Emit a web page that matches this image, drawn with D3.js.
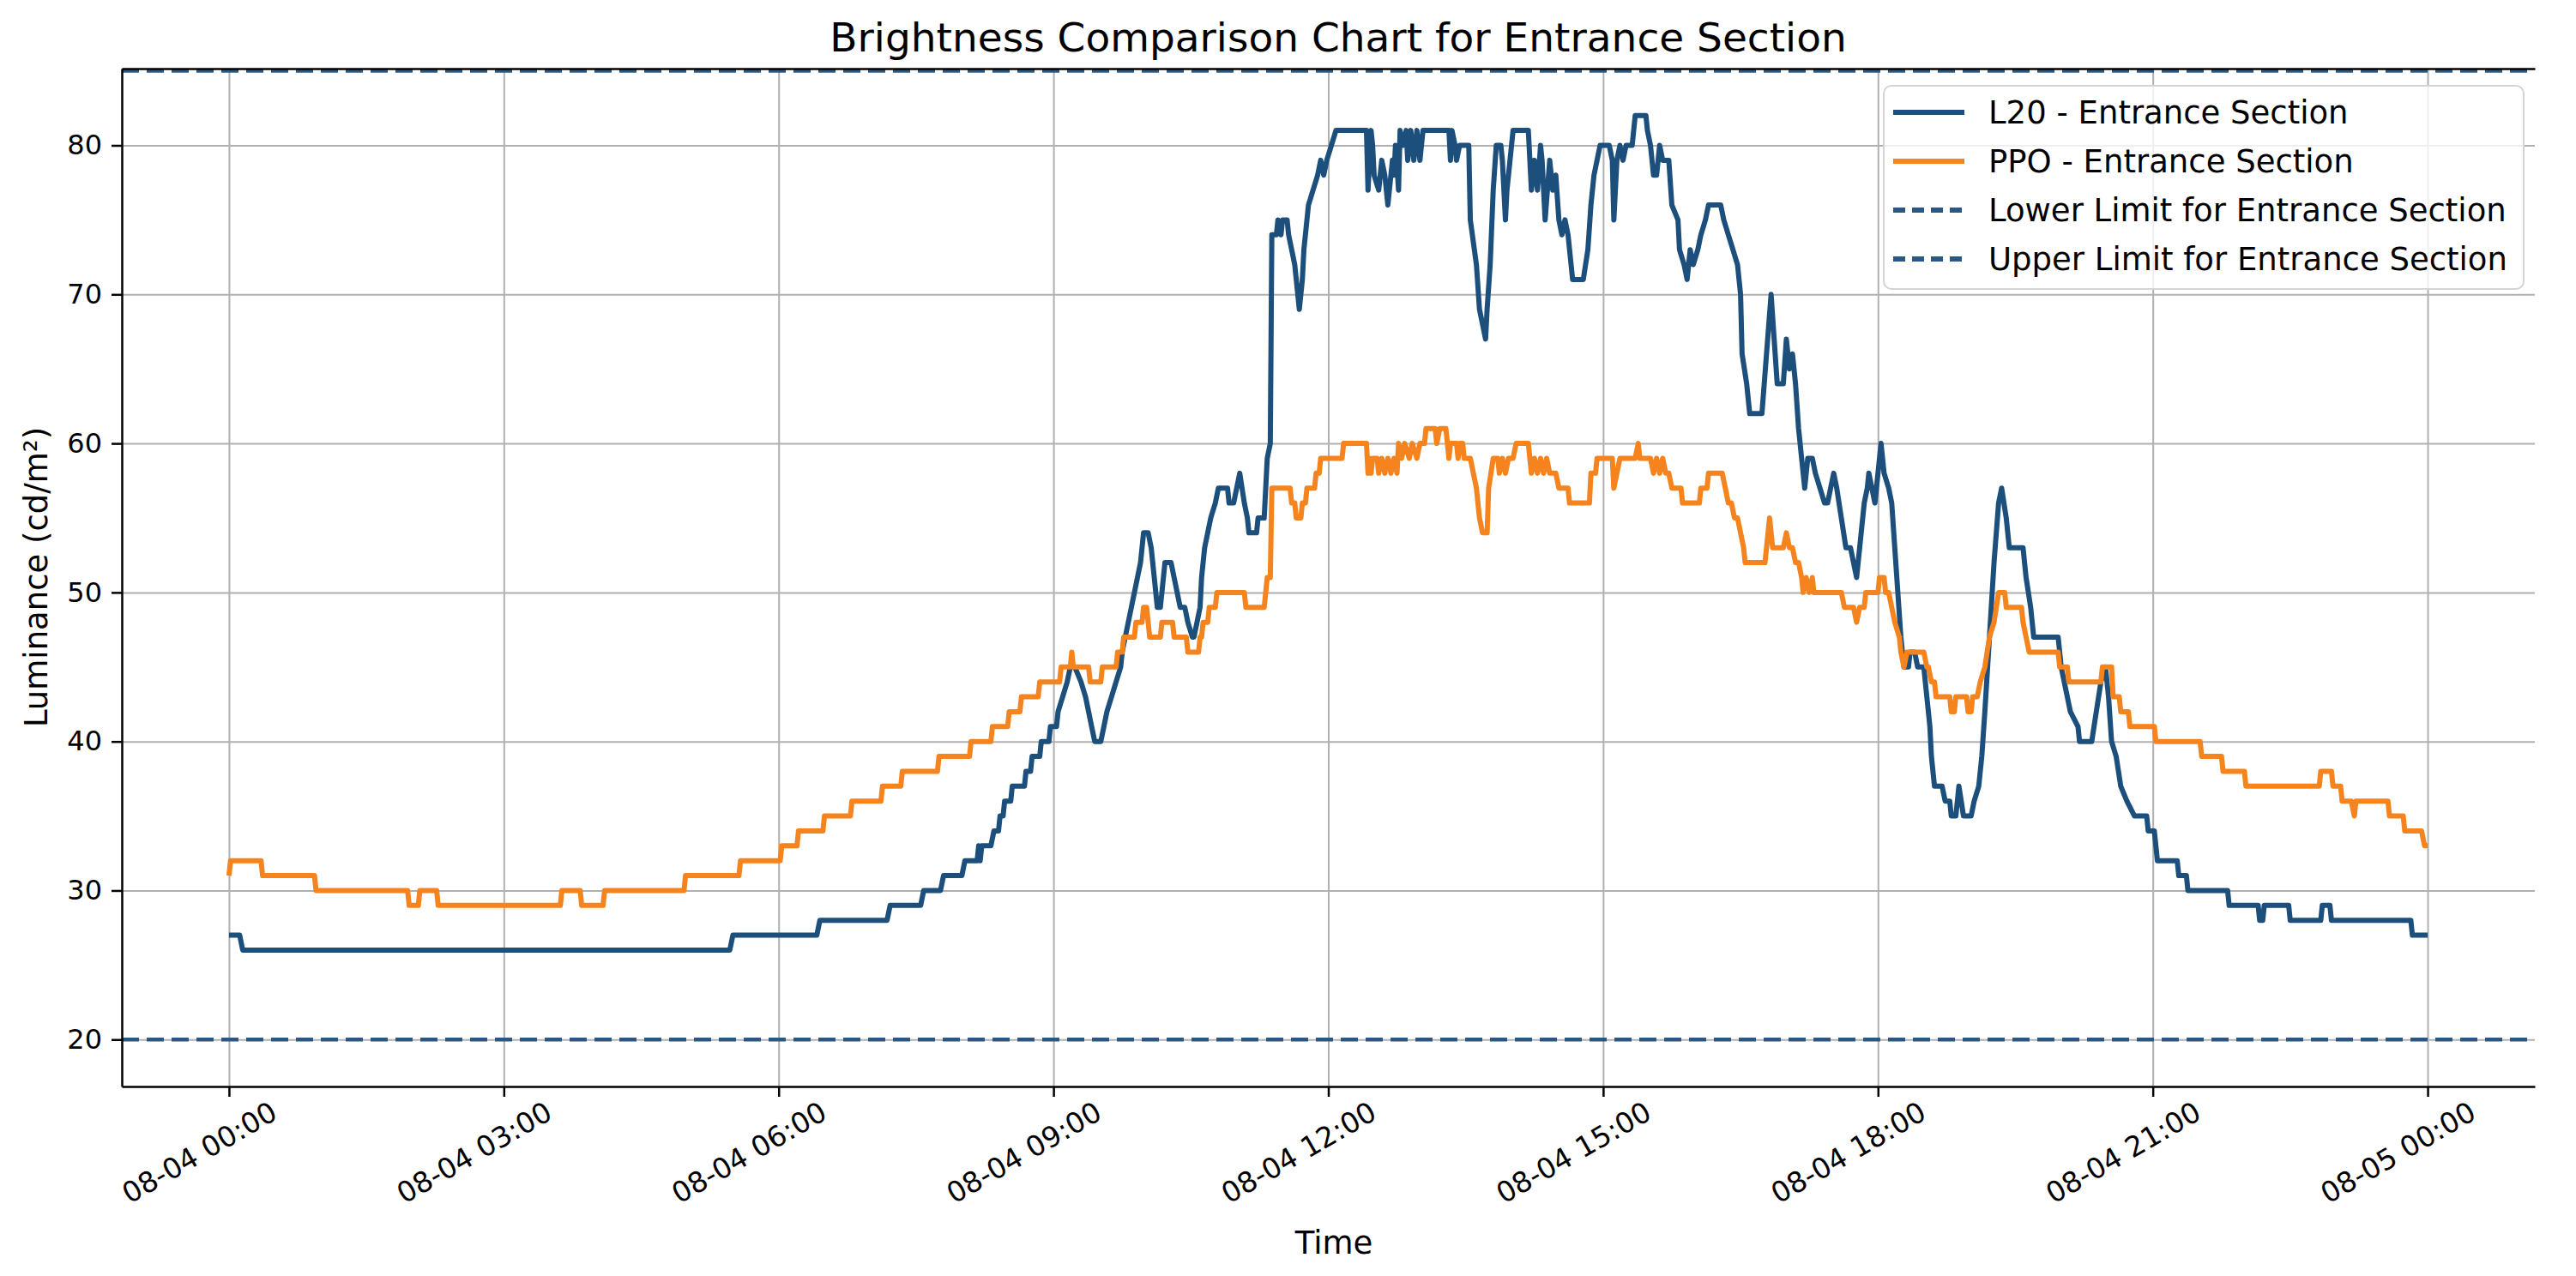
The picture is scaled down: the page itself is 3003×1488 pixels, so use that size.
<!DOCTYPE html>
<html>
<head>
<meta charset="utf-8">
<script src="https://cdn.jsdelivr.net/npm/d3@7"></script>
<style>
  body { margin: 0; background: #fff; }
  svg text { font-family: "DejaVu Sans", sans-serif; fill: #000; }
</style>
</head>
<body>
<script>
// L20 readings, [time of day, cd/m2]
var l20 = [["00:00",27],["00:07",27],["00:09",26],["05:28",26],["05:30",27],["06:25",27],["06:27",28],["07:11",28],["07:13",29],["07:33",29],["07:35",30],["07:46",30],["07:48",31],["08:00",31],["08:02",32],["08:10",32],["08:11",33],["08:12",32],["08:13",33],["08:19",33],["08:21",34],["08:24",34],["08:25",35],["08:27",35],["08:28",36],["08:32",36],["08:33",37],["08:41",37],["08:42",38],["08:45",38],["08:46",39],["08:51",39],["08:52",40],["08:57",40],["08:58",41],["09:02",41],["09:03",42],["09:06",43],["09:09",44],["09:11",45],["09:14",45],["09:18",44],["09:21",43],["09:23",42],["09:25",41],["09:27",40],["09:31",40],["09:33",41],["09:35",42],["09:38",43],["09:41",44],["09:44",45],["09:45",46],["09:47",47],["09:49",48],["09:51",49],["09:53",50],["09:55",51],["09:57",52],["09:58",53],["09:59",54],["10:02",54],["10:04",53],["10:05",52],["10:06",51],["10:07",50],["10:08",49],["10:10",49],["10:12",51],["10:13",52],["10:17",52],["10:19",51],["10:21",50],["10:23",49],["10:26",49],["10:28",48],["10:31",47],["10:32",47],["10:34",48],["10:36",49],["10:37",51],["10:39",53],["10:41",54],["10:43",55],["10:46",56],["10:48",57],["10:54",57],["10:55",56],["10:58",56],["11:00",57],["11:02",58],["11:05",56],["11:07",55],["11:08",54],["11:13",54],["11:14",55],["11:18",55],["11:19",57],["11:20",59],["11:22",60],["11:23",74],["11:26",74],["11:27",75],["11:29",74],["11:30",75],["11:33",75],["11:34",74],["11:36",73],["11:38",72],["11:39",71],["11:40",70],["11:41",69],["11:43",71],["11:44",73],["11:46",75],["11:47",76],["11:50",77],["11:53",78],["11:55",79],["11:57",78],["11:59",79],["12:02",80],["12:05",81],["12:25",81],["12:26",77],["12:28",81],["12:29",80],["12:30",78],["12:33",77],["12:35",79],["12:37",78],["12:39",76],["12:42",79],["12:43",78],["12:44",80],["12:46",77],["12:47",81],["12:49",80],["12:51",81],["12:52",79],["12:54",81],["12:56",79],["12:58",81],["13:00",79],["13:02",81],["13:19",81],["13:20",79],["13:21",81],["13:23",80],["13:24",79],["13:26",80],["13:32",80],["13:33",75],["13:37",72],["13:39",69],["13:41",68],["13:43",67],["13:44",69],["13:46",72],["13:48",77],["13:50",80],["13:53",80],["13:54",79],["13:56",75],["13:57",77],["13:59",79],["14:01",81],["14:11",81],["14:13",77],["14:15",79],["14:17",77],["14:19",80],["14:20",79],["14:22",75],["14:25",79],["14:27",77],["14:29",78],["14:31",75],["14:33",74],["14:35",75],["14:37",74],["14:39",72],["14:40",71],["14:47",71],["14:50",73],["14:52",76],["14:54",78],["14:56",79],["14:58",80],["15:04",80],["15:06",79],["15:07",75],["15:09",79],["15:11",80],["15:13",79],["15:15",80],["15:19",80],["15:20",81],["15:21",82],["15:28",82],["15:29",81],["15:31",80],["15:33",78],["15:35",78],["15:37",80],["15:39",79],["15:43",79],["15:45",76],["15:49",75],["15:50",73],["15:53",72],["15:55",71],["15:57",73],["15:59",72],["16:02",73],["16:04",74],["16:07",75],["16:09",76],["16:17",76],["16:19",75],["16:22",74],["16:25",73],["16:28",72],["16:30",70],["16:31",66],["16:34",64],["16:36",62],["16:44",62],["16:47",66],["16:50",70],["16:52",67],["16:54",64],["16:58",64],["17:00",67],["17:02",65],["17:04",66],["17:06",64],["17:08",61],["17:10",59],["17:12",57],["17:14",59],["17:17",59],["17:19",58],["17:22",57],["17:25",56],["17:27",56],["17:29",57],["17:31",58],["17:33",57],["17:36",55],["17:39",53],["17:42",53],["17:44",52],["17:46",51],["17:48",53],["17:51",56],["17:53",57],["17:54",58],["17:56",57],["17:58",56],["18:00",58],["18:02",60],["18:04",58],["18:07",57],["18:09",56],["18:11",53],["18:13",50],["18:15",47],["18:17",45],["18:20",45],["18:21",46],["18:24",46],["18:26",45],["18:30",45],["18:32",43],["18:34",41],["18:35",39],["18:37",37],["18:42",37],["18:44",36],["18:47",36],["18:48",35],["18:51",35],["18:53",37],["18:56",35],["19:01",35],["19:03",36],["19:06",37],["19:08",39],["19:10",42],["19:13",47],["19:16",52],["19:19",56],["19:21",57],["19:24",55],["19:26",53],["19:35",53],["19:37",51],["19:40",49],["19:42",47],["19:58",47],["20:00",45],["20:04",43],["20:06",42],["20:11",41],["20:12",40],["20:20",40],["20:23",42],["20:26",44],["20:29",45],["20:31",43],["20:33",40],["20:36",39],["20:39",37],["20:43",36],["20:48",35],["20:56",35],["20:57",34],["21:01",34],["21:02",33],["21:03",32],["21:16",32],["21:17",31],["21:22",31],["21:23",30],["21:49",30],["21:50",29],["22:09",29],["22:10",28],["22:12",28],["22:13",29],["22:29",29],["22:30",28],["22:50",28],["22:51",29],["22:56",29],["22:57",28],["23:49",28],["23:50",27],["24:00",27]];

// PPO readings
var ppo = [["00:00",31],["00:01",32],["00:21",32],["00:22",31],["00:56",31],["00:57",30],["01:57",30],["01:58",29],["02:04",29],["02:05",30],["02:16",30],["02:17",29],["03:37",29],["03:38",30],["03:50",30],["03:51",29],["04:05",29],["04:06",30],["04:58",30],["04:59",31],["05:34",31],["05:35",32],["06:01",32],["06:02",33],["06:12",33],["06:13",34],["06:29",34],["06:30",35],["06:47",35],["06:48",36],["07:07",36],["07:08",37],["07:20",37],["07:21",38],["07:44",38],["07:45",39],["08:05",39],["08:06",40],["08:19",40],["08:20",41],["08:30",41],["08:31",42],["08:38",42],["08:39",43],["08:50",43],["08:51",44],["09:04",44],["09:05",45],["09:11",45],["09:12",46],["09:13",45],["09:23",45],["09:24",44],["09:31",44],["09:32",45],["09:41",45],["09:42",46],["09:45",46],["09:46",47],["09:53",47],["09:54",48],["09:58",48],["09:59",49],["10:01",49],["10:02",48],["10:03",47],["10:10",47],["10:11",48],["10:18",48],["10:19",47],["10:27",47],["10:28",46],["10:35",46],["10:36",47],["10:37",47],["10:38",48],["10:41",48],["10:42",49],["10:46",49],["10:47",50],["11:05",50],["11:06",49],["11:18",49],["11:20",51],["11:22",51],["11:23",57],["11:35",57],["11:36",56],["11:38",56],["11:39",55],["11:42",55],["11:43",56],["11:45",56],["11:46",57],["11:51",57],["11:52",58],["11:54",58],["11:55",59],["12:09",59],["12:10",60],["12:25",60],["12:26",58],["12:27",59],["12:28",58],["12:29",59],["12:32",59],["12:33",58],["12:35",59],["12:37",58],["12:39",59],["12:41",58],["12:43",59],["12:45",58],["12:46",60],["12:48",59],["12:50",60],["12:53",59],["12:55",60],["12:58",59],["13:00",60],["13:03",60],["13:04",61],["13:10",61],["13:11",60],["13:13",61],["13:17",61],["13:19",59],["13:20",60],["13:24",60],["13:25",59],["13:26",60],["13:28",60],["13:29",59],["13:33",59],["13:35",58],["13:37",57],["13:39",55],["13:41",54],["13:44",54],["13:45",57],["13:48",59],["13:51",59],["13:52",58],["13:54",59],["13:56",58],["13:58",59],["14:01",59],["14:03",60],["14:11",60],["14:13",58],["14:15",59],["14:17",58],["14:19",59],["14:21",58],["14:23",59],["14:25",58],["14:29",58],["14:31",57],["14:37",57],["14:38",56],["14:51",56],["14:52",58],["14:55",58],["14:56",59],["15:06",59],["15:07",57],["15:09",58],["15:11",59],["15:21",59],["15:23",60],["15:24",59],["15:31",59],["15:33",58],["15:35",59],["15:37",58],["15:39",59],["15:41",58],["15:43",58],["15:45",57],["15:51",57],["15:52",56],["16:03",56],["16:04",57],["16:08",57],["16:09",58],["16:18",58],["16:20",57],["16:22",56],["16:24",56],["16:26",55],["16:28",55],["16:30",54],["16:32",53],["16:33",52],["16:46",52],["16:49",55],["16:51",53],["16:58",53],["17:00",54],["17:02",53],["17:04",53],["17:06",52],["17:08",52],["17:10",51],["17:11",50],["17:13",51],["17:15",50],["17:17",51],["17:18",50],["17:36",50],["17:38",49],["17:44",49],["17:46",48],["17:48",49],["17:51",49],["17:52",50],["18:00",50],["18:01",51],["18:04",51],["18:05",50],["18:07",50],["18:09",49],["18:11",48],["18:14",47],["18:15",46],["18:17",45],["18:19",46],["18:30",46],["18:32",45],["18:33",45],["18:35",44],["18:37",44],["18:38",43],["18:47",43],["18:48",42],["18:50",42],["18:51",43],["18:58",43],["18:59",42],["19:01",42],["19:02",43],["19:05",43],["19:07",44],["19:10",45],["19:13",47],["19:16",48],["19:19",50],["19:23",50],["19:24",49],["19:34",49],["19:35",48],["19:37",47],["19:39",46],["19:58",46],["19:59",45],["20:04",45],["20:05",44],["20:26",44],["20:27",45],["20:33",45],["20:34",43],["20:38",43],["20:39",42],["20:44",42],["20:45",41],["21:01",41],["21:02",40],["21:31",40],["21:32",39],["21:45",39],["21:46",38],["22:00",38],["22:01",37],["22:49",37],["22:50",38],["22:57",38],["22:58",37],["23:03",37],["23:04",36],["23:10",36],["23:12",35],["23:13",36],["23:34",36],["23:35",35],["23:44",35],["23:45",34],["23:56",34],["23:58",33],["24:00",33]];

var lowerLimit = 20;
var upperLimit = 85;
var yTicks = [20, 30, 40, 50, 60, 70, 80];
var xTickHours = [0, 3, 6, 9, 12, 15, 18, 21, 24];
var legendLabels = ['L20 - Entrance Section', 'PPO - Entrance Section',
  'Lower Limit for Entrance Section', 'Upper Limit for Entrance Section'];

var colorL20 = '#1c4f7c';
var colorPPO = '#f5841f';
var colorLimit = '#2a5884';

var width = 3003, height = 1488;
var plotLeft = 142, plotRight = 2955, plotTop = 80, plotBottom = 1267;

var base = new Date(2024, 7, 4);
function atHours(h) { return new Date(base.getTime() + h * 3600000); }
function toDate(hm) {
  var p = hm.split(':');
  return atHours(+p[0] + p[1] / 60);
}

var x = d3.scaleTime()
  .domain([atHours(-1.17), atHours(25.17)])
  .range([plotLeft, plotRight]);

var y = d3.scaleLinear()
  .domain([16.85, 85.15])
  .range([plotBottom, plotTop]);

var svg = d3.select('body').append('svg')
  .attr('width', width)
  .attr('height', height);

svg.append('rect')
  .attr('width', width)
  .attr('height', height)
  .attr('fill', '#fff');

var xTickDates = xTickHours.map(atHours);

// grid
var gridX = svg.append('g')
  .attr('transform', 'translate(0,' + plotBottom + ')')
  .call(d3.axisBottom(x).tickValues(xTickDates).tickSize(-(plotBottom - plotTop)).tickFormat(''));
gridX.select('.domain').remove();
gridX.selectAll('line').attr('stroke', '#b0b0b0').attr('stroke-width', 2);

var gridY = svg.append('g')
  .attr('transform', 'translate(' + plotLeft + ',0)')
  .call(d3.axisLeft(y).tickValues(yTicks).tickSize(-(plotRight - plotLeft)).tickFormat(''));
gridY.select('.domain').remove();
gridY.selectAll('line').attr('stroke', '#b0b0b0').attr('stroke-width', 2);

var line = d3.line()
  .x(function(d) { return x(toDate(d[0])); })
  .y(function(d) { return y(d[1]); });

svg.append('path')
  .datum(l20)
  .attr('d', line)
  .attr('fill', 'none')
  .attr('stroke', colorL20)
  .attr('stroke-width', 6)
  .attr('stroke-linejoin', 'round');

svg.append('path')
  .datum(ppo)
  .attr('d', line)
  .attr('fill', 'none')
  .attr('stroke', colorPPO)
  .attr('stroke-width', 6)
  .attr('stroke-linejoin', 'round');

// limit lines across the whole axis
[lowerLimit, upperLimit].forEach(function(v) {
  svg.append('path')
    .datum(x.domain())
    .attr('d', d3.line().x(function(d) { return x(d); }).y(function() { return y(v); }))
    .attr('fill', 'none')
    .attr('stroke', colorLimit)
    .attr('stroke-width', 4.5)
    .attr('stroke-dasharray', '20,9');
});

// axes
var xAxis = svg.append('g')
  .attr('transform', 'translate(0,' + plotBottom + ')')
  .call(d3.axisBottom(x)
    .tickValues(xTickDates)
    .tickFormat(d3.timeFormat('%m-%d %H:%M'))
    .tickSize(12)
    .tickSizeOuter(0));

xAxis.selectAll('text')
  .attr('x', -35)
  .attr('y', 77)
  .attr('dy', '0.35em')
  .attr('transform', 'rotate(-30,-35,77)')
  .style('text-anchor', 'middle')
  .style('font-size', '33px');

var yAxis = svg.append('g')
  .attr('transform', 'translate(' + plotLeft + ',0)')
  .call(d3.axisLeft(y)
    .tickValues(yTicks)
    .tickSize(12)
    .tickPadding(11)
    .tickSizeOuter(0));

yAxis.selectAll('text').style('font-size', '32px');

var topAxis = svg.append('g')
  .attr('transform', 'translate(0,' + plotTop + ')')
  .call(d3.axisTop(x).tickValues([]).tickSizeOuter(0));

[xAxis, yAxis, topAxis].forEach(function(g) {
  g.selectAll('.domain, .tick line')
    .attr('stroke', '#000')
    .attr('stroke-width', 2.5);
});

// titles
svg.append('text')
  .attr('x', 1560)
  .attr('y', 60)
  .attr('text-anchor', 'middle')
  .style('font-size', '47px')
  .text('Brightness Comparison Chart for Entrance Section');

svg.append('text')
  .attr('x', 1555)
  .attr('y', 1462)
  .attr('text-anchor', 'middle')
  .style('font-size', '37px')
  .text('Time');

svg.append('text')
  .attr('transform', 'translate(55,673) rotate(-90)')
  .attr('text-anchor', 'middle')
  .style('font-size', '37px')
  .text('Luminance (cd/m²)');

// legend
var legend = svg.append('g')
  .attr('transform', 'translate(2196,100)');

legend.append('rect')
  .attr('width', 746)
  .attr('height', 237)
  .attr('rx', 9)
  .attr('fill', '#fff')
  .attr('fill-opacity', 0.8)
  .attr('stroke', '#d4d4d4')
  .attr('stroke-width', 2);

var legendColors = [colorL20, colorPPO, colorLimit, colorLimit];
var legendDash = [null, null, '14,8', '14,8'];

var rows = legend.selectAll('.row')
  .data(legendLabels)
  .enter().append('g')
  .attr('class', 'row')
  .attr('transform', function(d, i) { return 'translate(0,' + (31 + i * 57) + ')'; });

rows.append('line')
  .attr('x1', 11)
  .attr('x2', 94)
  .attr('stroke', function(d, i) { return legendColors[i]; })
  .attr('stroke-width', 6)
  .attr('stroke-dasharray', function(d, i) { return legendDash[i]; });

rows.append('text')
  .attr('x', 122)
  .attr('dy', '0.35em')
  .style('font-size', '37px')
  .text(function(d) { return d; });
</script>
</body>
</html>
